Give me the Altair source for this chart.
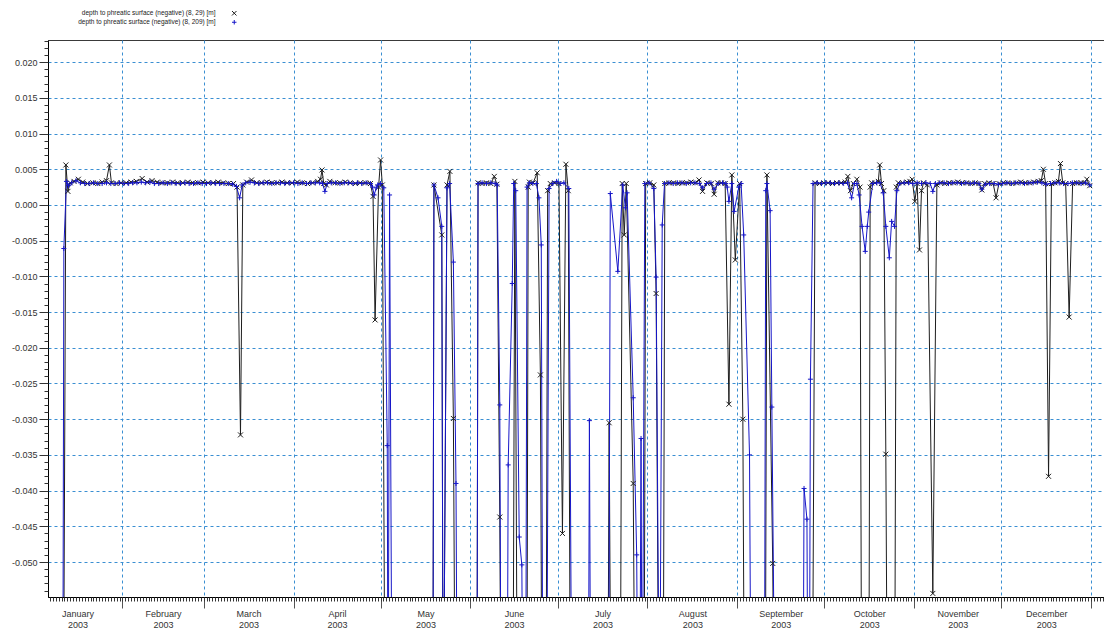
import altair as alt
import pandas as pd

SERIES = ["depth to phreatic surface (negative) (8, 29)  [m]",
          "depth to phreatic surface (negative) (8, 209) [m]"]
COLORS = ["#1e1e1e", "#1616c8"]
YEAR_START = "2003-01-01"

# (day of year, value); -0.08 marks values below the plot
BLACK_29 = [
    (10.6, -0.080), (11.5, 0.0056), (12.2, 0.0019), (13.0, 0.0031),
    (14.3, 0.0033), (15.8, 0.0036), (17.3, 0.0032), (19.0, 0.0030), (20.8, 0.0031),
    (22.5, 0.0030), (24.0, 0.0032), (25.5, 0.0034), (26.5, 0.0056), (27.2, 0.0031),
    (28.8, 0.0030), (30.5, 0.0031), (32.3, 0.0031), (34.0, 0.0032), (35.8, 0.0033),
    (37.8, 0.0037), (39.5, 0.0032), (41.2, 0.0034), (43.0, 0.0032), (44.8, 0.0031),
    (46.5, 0.0031), (48.3, 0.0032), (50.0, 0.0031), (51.8, 0.0031), (53.5, 0.0032),
    (55.3, 0.0031), (57.0, 0.0031), (58.8, 0.0032), (60.5, 0.0031), (62.3, 0.0031),
    (64.0, 0.0032), (65.8, 0.0031), (67.5, 0.0030), (69.3, 0.0030), (70.5, 0.0025),
    (71.7, -0.0322), (72.5, 0.0028), (73.8, 0.0032),
    (75.5, 0.0035), (77.3, 0.0031), (79.0, 0.0031), (80.8, 0.0032), (82.5, 0.0031),
    (84.3, 0.0031), (86.0, 0.0032), (87.8, 0.0031), (89.5, 0.0031), (91.3, 0.0032),
    (93.0, 0.0031), (94.8, 0.0030), (96.5, 0.0031), (98.3, 0.0033), (99.3, 0.0036),
    (99.8, 0.0049), (100.4, 0.0030), (101.3, 0.0028), (102.5, 0.0033), (104.3, 0.0031),
    (106.0, 0.0031), (107.8, 0.0032), (109.5, 0.0031), (111.3, 0.0030), (113.0, 0.0031),
    (114.8, 0.0031), (116.5, 0.0030), (117.4, 0.0012), (118.1, -0.0161),
    (119.3, 0.0025), (120.0, 0.0063), (120.6, 0.0028),
    (121.6, -0.080), (138.0, -0.080), (138.4, 0.0028), (141.1, -0.0042),
    (141.6, -0.080), (142.9, 0.0028), (143.9, 0.0047),
    (145.1, -0.0299), (145.8, -0.080), (153.2, -0.080), (153.6, 0.0031), (155.0, 0.0030),
    (156.5, 0.0031), (158.0, 0.0030), (159.2, 0.0040), (160.1, 0.0029),
    (161.1, -0.0437), (161.6, -0.080), (165.6, -0.080), (166.3, 0.0033),
    (167.2, -0.080), (170.4, -0.080), (170.9, 0.0025), (171.3, 0.0032),
    (172.6, 0.0031), (174.0, 0.0045), (175.1, -0.0238), (175.7, -0.080),
    (177.0, -0.080), (177.6, 0.0020), (178.5, 0.0030), (180.0, 0.0031), (181.5, 0.0030),
    (182.7, -0.0460), (183.9, 0.0057), (184.7, 0.0020),
    (185.5, -0.080), (198.3, -0.080), (198.8, -0.0305), (199.5, -0.080), (202.6, -0.080),
    (203.3, 0.0030), (204.0, -0.0042), (204.7, 0.0030), (207.1, -0.0390),
    (207.8, -0.080), (210.8, -0.080), (211.4, 0.0030), (212.8, 0.0031), (214.2, 0.0028),
    (215.0, -0.0124), (216.0, -0.080), (217.4, -0.080), (218.0, 0.0030),
    (219.5, 0.0031), (221.0, 0.0031), (222.5, 0.0030), (224.0, 0.0031), (225.5, 0.0031),
    (227.0, 0.0032), (228.5, 0.0031), (229.8, 0.0035), (231.0, 0.0019), (232.5, 0.0031),
    (234.0, 0.0030), (235.0, 0.0015), (236.2, 0.0031), (237.5, 0.0031), (238.8, 0.0030),
    (240.1, -0.0279), (241.1, 0.0042),
    (242.3, -0.0077), (243.8, 0.0030), (244.9, -0.0300),
    (245.5, -0.080), (252.6, -0.080), (253.2, 0.0042),
    (255.2, -0.0502), (255.8, -0.080), (268.8, -0.080), (269.8, 0.0031),
    (271.3, 0.0030), (272.8, 0.0031), (274.3, 0.0031), (275.8, 0.0030), (277.3, 0.0031),
    (278.8, 0.0031), (280.2, 0.0032), (281.1, 0.0040), (282.0, 0.0020), (283.0, 0.0030),
    (284.2, 0.0036), (285.3, 0.0025), (285.9, -0.080), (288.3, -0.080), (288.8, 0.0025),
    (289.3, 0.0031), (290.5, 0.0031), (291.6, 0.0033), (292.1, 0.0056), (292.7, 0.0030),
    (293.5, 0.0020), (294.2, -0.0349), (294.8, -0.080), (297.2, -0.080), (297.8, 0.0025),
    (298.5, 0.0031), (300.0, 0.0031), (301.5, 0.0032), (302.5, 0.0033), (303.3, 0.0036),
    (304.2, 0.0005), (305.0, 0.0030), (305.8, -0.0063), (306.5, 0.0020), (307.2, 0.0031),
    (308.5, 0.0028), (310.4, -0.0544), (311.8, 0.0028),
    (313.0, 0.0031), (314.5, 0.0030), (316.0, 0.0031), (317.5, 0.0031), (319.0, 0.0032),
    (320.5, 0.0031), (322.0, 0.0031), (323.5, 0.0030), (325.0, 0.0031), (326.3, 0.0030),
    (327.3, 0.0021), (328.3, 0.0030), (329.8, 0.0031), (331.2, 0.0030), (332.2, 0.0010),
    (333.2, 0.0030), (334.7, 0.0031), (336.2, 0.0031), (337.7, 0.0030), (339.2, 0.0031),
    (340.7, 0.0032), (342.2, 0.0031), (343.7, 0.0031), (345.2, 0.0032), (346.7, 0.0033),
    (347.8, 0.0034), (348.5, 0.0050), (349.3, 0.0030), (350.3, -0.0380),
    (351.3, 0.0030), (352.5, 0.0031), (353.7, 0.0033), (354.4, 0.0058),
    (355.2, 0.0031), (356.2, 0.0030), (357.4, -0.0157),
    (358.6, 0.0030), (360.0, 0.0031), (361.5, 0.0031), (362.7, 0.0031), (363.5, 0.0036),
    (364.5, 0.0027),
]

BLUE_209 = [
    (10.4, -0.080), (10.8, -0.0061), (11.7, 0.0033), (12.4, 0.0027), (13.5, 0.0031),
    (15.0, 0.0034), (16.5, 0.0031), (18.0, 0.0030), (19.5, 0.0030), (21.0, 0.0031),
    (22.5, 0.0030), (24.0, 0.0030), (25.5, 0.0031), (27.0, 0.0030), (28.5, 0.0030),
    (30.0, 0.0031), (31.5, 0.0030), (33.0, 0.0030), (34.5, 0.0031), (36.0, 0.0031),
    (37.5, 0.0032), (39.0, 0.0031), (40.5, 0.0032), (42.0, 0.0030), (43.5, 0.0030),
    (45.0, 0.0031), (46.5, 0.0030), (48.0, 0.0031), (49.5, 0.0030), (51.0, 0.0030),
    (52.5, 0.0031), (54.0, 0.0030), (55.5, 0.0030), (57.0, 0.0031), (58.5, 0.0030),
    (60.0, 0.0030), (61.5, 0.0031), (63.0, 0.0030), (64.5, 0.0030), (66.0, 0.0030),
    (67.5, 0.0030), (69.0, 0.0029), (70.3, 0.0026), (71.4, 0.0010), (72.3, 0.0028),
    (73.5, 0.0031), (75.0, 0.0032), (76.5, 0.0031), (78.0, 0.0030), (79.5, 0.0031),
    (81.0, 0.0031), (82.5, 0.0030), (84.0, 0.0031), (85.5, 0.0031), (87.0, 0.0030),
    (88.5, 0.0031), (90.0, 0.0031), (91.5, 0.0030), (93.0, 0.0031), (94.5, 0.0030),
    (96.0, 0.0031), (97.5, 0.0031), (99.0, 0.0031), (100.0, 0.0030), (100.8, 0.0019),
    (101.6, 0.0030), (103.0, 0.0031), (104.5, 0.0031), (106.0, 0.0030), (107.5, 0.0031),
    (109.0, 0.0031), (110.5, 0.0030), (112.0, 0.0031), (113.5, 0.0030), (115.0, 0.0031),
    (116.5, 0.0030), (117.2, 0.0025), (117.8, 0.0014), (118.5, 0.0024), (119.0, 0.0028),
    (120.0, 0.0030), (121.1, 0.0024), (122.3, -0.0337), (122.6, -0.080),
    (123.1, 0.0014), (124.0, -0.080), (138.0, -0.080), (138.4, 0.0028),
    (139.8, 0.0010), (141.1, -0.0030), (141.6, -0.080), (142.9, 0.0024),
    (143.8, 0.0030), (145.1, -0.0080), (146.0, -0.0390), (146.5, -0.080), (153.2, -0.080),
    (153.6, 0.0030), (155.0, 0.0031), (156.5, 0.0030), (158.0, 0.0031), (159.5, 0.0030),
    (160.2, 0.0028), (161.1, -0.0280), (161.6, -0.080), (163.6, -0.080), (164.0, -0.0364),
    (165.4, -0.0110), (165.9, 0.0030), (166.6, 0.0020),
    (167.8, -0.0465), (168.7, -0.0504), (169.2, -0.080), (170.0, -0.080), (170.5, 0.0025),
    (171.3, 0.0031), (172.5, 0.0030), (173.7, 0.0030), (174.6, 0.0010), (175.4, -0.0056),
    (176.0, -0.080), (177.2, -0.080), (178.1, 0.0023), (179.4, 0.0030), (180.7, 0.0033),
    (181.9, 0.0030), (183.2, 0.0031), (184.9, 0.0023), (186.0, -0.080),
    (191.6, -0.080), (192.0, -0.0302), (192.5, -0.080), (198.6, -0.080), (199.2, 0.0016),
    (201.8, -0.0093), (203.5, 0.0028), (204.4, -0.0004),
    (205.0, 0.0017), (207.1, -0.0270), (208.3, -0.0490), (208.8, -0.080),
    (209.3, -0.080), (209.8, -0.0327), (210.2, -0.080), (211.1, 0.0030),
    (212.6, 0.0031), (214.2, 0.0023), (215.0, -0.0101), (216.2, -0.080),
    (217.1, -0.0028), (217.9, 0.0030), (219.4, 0.0031), (220.9, 0.0030),
    (222.4, 0.0031), (223.9, 0.0031), (225.4, 0.0030), (226.9, 0.0031), (228.4, 0.0031),
    (229.9, 0.0030), (231.0, 0.0024), (232.4, 0.0030), (233.9, 0.0031), (235.0, 0.0022),
    (236.4, 0.0030), (237.9, 0.0031), (239.0, 0.0030), (239.5, 0.0025), (240.1, 0.0005),
    (241.1, 0.0030), (241.9, -0.0009), (243.5, 0.0025), (244.3, 0.0030),
    (245.2, -0.0042), (247.2, -0.0350), (247.8, -0.080), (252.3, -0.080),
    (252.8, 0.0020), (253.2, 0.0030), (254.3, -0.0008), (254.9, -0.0283),
    (256.1, -0.080), (265.6, -0.080), (266.0, -0.0397), (267.0, -0.0440), (267.4, -0.080),
    (267.8, -0.080), (268.2, -0.0244), (269.1, 0.0030), (270.5, 0.0031), (272.0, 0.0030),
    (273.5, 0.0031), (275.0, 0.0031), (276.5, 0.0030), (278.0, 0.0031), (279.5, 0.0030),
    (281.0, 0.0031), (282.4, 0.0010), (283.4, 0.0030), (284.2, 0.0030), (285.0, 0.0014),
    (286.0, -0.0030), (287.1, -0.0065), (287.8, -0.0030), (288.3, -0.0010), (289.7, 0.0030),
    (291.0, 0.0031), (292.2, 0.0031), (293.3, 0.0017), (294.2, -0.0030), (295.4, -0.0074),
    (296.2, -0.0023), (297.2, -0.0030), (298.0, 0.0020), (299.0, 0.0030), (300.5, 0.0031),
    (302.0, 0.0031), (303.5, 0.0030), (305.0, 0.0031), (306.5, 0.0030), (308.0, 0.0031),
    (309.5, 0.0030), (310.4, 0.0019), (311.3, 0.0030), (312.8, 0.0031), (314.3, 0.0031),
    (315.8, 0.0030), (317.3, 0.0031), (318.8, 0.0031), (320.3, 0.0030), (321.8, 0.0031),
    (323.3, 0.0030), (324.8, 0.0031), (326.3, 0.0030), (327.3, 0.0022), (328.5, 0.0029),
    (330.0, 0.0030), (331.5, 0.0030), (333.0, 0.0029), (334.5, 0.0030), (336.0, 0.0031),
    (337.5, 0.0030), (339.0, 0.0031), (340.5, 0.0031), (342.0, 0.0030), (343.5, 0.0031),
    (345.0, 0.0031), (346.5, 0.0032), (348.0, 0.0031), (349.5, 0.0029), (351.0, 0.0030),
    (352.5, 0.0031), (354.0, 0.0031), (355.5, 0.0030), (357.0, 0.0030), (358.5, 0.0031),
    (360.0, 0.0031), (361.5, 0.0030), (363.0, 0.0031), (364.5, 0.0028),
]

Y_TICKS = [-0.050, -0.045, -0.040, -0.035, -0.030, -0.025, -0.020, -0.015,
           -0.010, -0.005, 0.000, 0.005, 0.010, 0.015, 0.020]
Y_MINOR = [round(-0.054 + 0.001 * i, 3) for i in range(78)]
MONTH_DAYS = [31, 28, 31, 30, 31, 30, 31, 31, 30, 31, 30, 31]

X_PATH = "M-1,-1L1,1M-1,1L1,-1"
PLUS_PATH = "M-1,0L1,0M0,-1L0,1"


def frame(points, name):
    base = pd.Timestamp(YEAR_START)
    return pd.DataFrame({
        "date": [(base + pd.Timedelta(days=d)).round("min") for d, _ in points],
        "value": [v for _, v in points],
        "series": name,
    })


df = pd.concat([frame(BLACK_29, SERIES[0]), frame(BLUE_209, SERIES[1])], ignore_index=True)

x_scale = alt.Scale(domain=[alt.DateTime(year=2003, month=1, date=6, hours=8),
                            alt.DateTime(year=2004, month=1, date=5, hours=10)], nice=False)
y_scale = alt.Scale(domain=[-0.0549, 0.0231], nice=False, zero=False)
color_scale = alt.Scale(domain=SERIES, range=COLORS)
shape_scale = alt.Scale(domain=SERIES, range=[X_PATH, PLUS_PATH])

GRID = dict(grid=True, gridColor="#3a8fd2", gridDash=[3, 3], gridWidth=1, gridOpacity=1)

mid_month = [alt.DateTime(year=2003, month=m + 1, date=1 + d // 2, hours=12 if d % 2 else 0)
             for m, d in enumerate(MONTH_DAYS)]

ax_x_month = alt.Axis(orient="bottom", tickCount={"interval": "month", "step": 1}, labels=False,
                      tickSize=11, tickWidth=1, tickColor="#555555", domain=True, domainColor="#000000",
                      title=None, **GRID)
ax_x_day = alt.Axis(orient="bottom", tickCount={"interval": "day", "step": 1}, labels=False,
                    tickSize=4, tickWidth=1, tickColor="#333333", domain=False, grid=False, title=None)
ax_x_label = alt.Axis(orient="bottom", values=mid_month, ticks=False, tickSize=0, domain=False,
                      grid=False, title=None, labelPadding=12, labelFontSize=9, labelLineHeight=11,
                      labelColor="#333333", labelFont="Liberation Sans",
                      labelExpr="[timeFormat(datum.value, '%B'), timeFormat(datum.value, '%Y')]")
ax_y_main = alt.Axis(orient="left", values=Y_TICKS, tickSize=9, tickColor="#333333",
                     labelPadding=2, labelFontSize=9, labelColor="#333333", labelFont="Liberation Sans",
                     labelExpr="replace(format(datum.value, '.3f'), '\u2212', '-')",
                     domain=True, domainColor="#000000", title=None, **GRID)
ax_y_minor = alt.Axis(orient="left", values=Y_MINOR, tickSize=4, tickColor="#333333", labels=False,
                      domain=False, grid=False, title=None)

legend = alt.Legend(orient="none", legendX=183, legendY=-30, title=None,
                    labelFont="Liberation Sans", labelFontSize=6.5, labelColor="#222222",
                    labelAlign="right", labelOffset={"expr": "-22"}, labelLimit=0,
                    symbolSize=20, symbolStrokeWidth=1, rowPadding=0, padding=0)

base = alt.Chart(df)


def X(axis):
    return alt.X("date:T", scale=x_scale, axis=axis, title=None)


def Y(axis):
    return alt.Y("value:Q", scale=y_scale, axis=axis, title=None)


def sel(name):
    return alt.datum.series == name


line_black = base.transform_filter(sel(SERIES[0])).mark_line(strokeWidth=1, clip=True).encode(
    x=X(ax_x_month), y=Y(ax_y_main),
    color=alt.Color("series:N", scale=color_scale, legend=legend))
line_blue = base.transform_filter(sel(SERIES[1])).mark_line(strokeWidth=1, clip=True).encode(
    x=X(None), y=Y(None),
    color=alt.Color("series:N", scale=color_scale, legend=legend))
pts_black = base.transform_filter(sel(SERIES[0])).mark_point(
    filled=False, size=25, strokeWidth=1, opacity=1, clip=True).encode(
    x=X(None), y=Y(None),
    color=alt.Color("series:N", scale=color_scale, legend=legend),
    shape=alt.Shape("series:N", scale=shape_scale, legend=legend))
pts_blue = base.transform_filter(sel(SERIES[1])).mark_point(
    filled=False, size=25, strokeWidth=1, opacity=1, clip=True).encode(
    x=X(None), y=Y(None),
    color=alt.Color("series:N", scale=color_scale, legend=legend),
    shape=alt.Shape("series:N", scale=shape_scale, legend=legend))
minor_axes = base.mark_point(opacity=0).encode(x=X(ax_x_day), y=Y(ax_y_minor))
label_axis = base.mark_point(opacity=0).encode(x=X(ax_x_label), y=Y(None))

chart = alt.layer(
    line_black, line_blue, pts_black, pts_blue, minor_axes, label_axis
).resolve_axis(x="independent", y="independent").properties(
    width=1056, height=557,
    padding={"left": 40, "top": 32, "right": 0, "bottom": 32},
    autosize=alt.AutoSizeParams(type="none"),
).configure_view(stroke="#3a3a3a", strokeWidth=1)

chart.save("out.html", embed_options={"renderer": "svg", "actions": False})
